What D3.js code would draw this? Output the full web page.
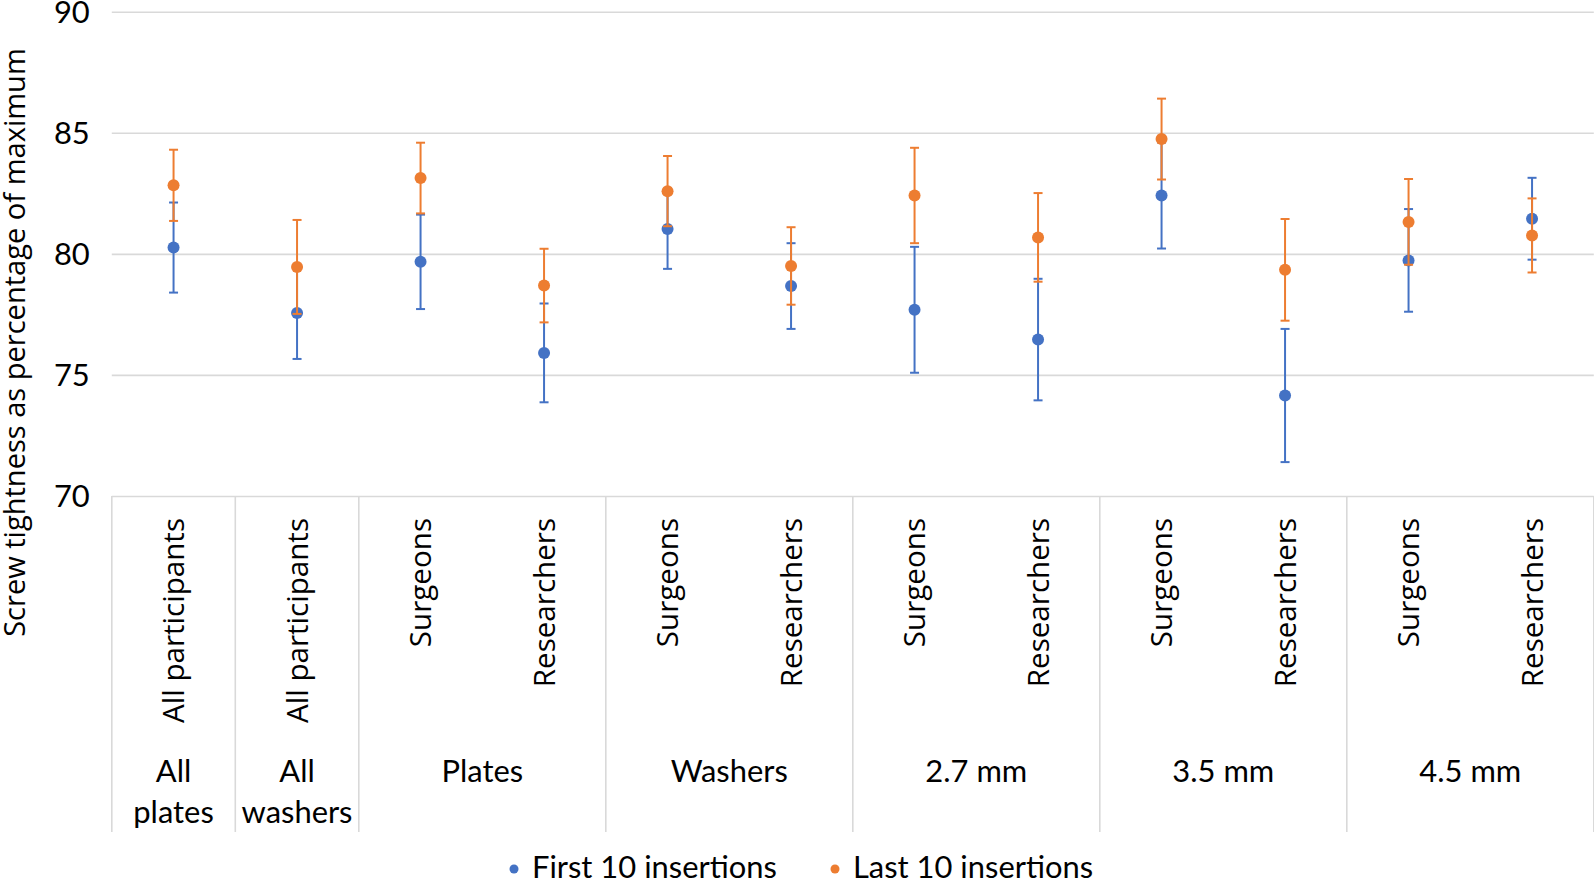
<!DOCTYPE html>
<html>
<head>
<meta charset="utf-8">
<script src="https://cdn.jsdelivr.net/npm/d3@7"></script>
<style>
  html, body { margin: 0; padding: 0; background: #fff; }
  svg { display: block; }
</style>
</head>
<body>
<svg id="chart" width="1594" height="882"></svg>
<script>
// ---------------- DATA ----------------
const categories = ["All participants", "All participants", "Surgeons", "Researchers", "Surgeons", "Researchers",
                    "Surgeons", "Researchers", "Surgeons", "Researchers", "Surgeons", "Researchers"];
const groups = [
  { lines: ["All", "plates"], start: 0, end: 1 },
  { lines: ["All", "washers"], start: 1, end: 2 },
  { lines: ["Plates"], start: 2, end: 4 },
  { lines: ["Washers"], start: 4, end: 6 },
  { lines: ["2.7 mm"], start: 6, end: 8 },
  { lines: ["3.5 mm"], start: 8, end: 10 },
  { lines: ["4.5 mm"], start: 10, end: 12 }
];
const seriesNames = ["First 10 insertions", "Last 10 insertions"];
const firstMean = [80.26, 77.56, 79.67, 75.91, 81.03, 78.67, 77.69, 76.46, 82.41, 74.15, 79.73, 81.45];
const firstErr  = [1.86, 1.90, 1.95, 2.04, 1.65, 1.77, 2.60, 2.51, 2.19, 2.75, 2.12, 1.69];
const lastMean  = [82.83, 79.46, 83.13, 78.69, 82.59, 79.50, 82.41, 80.68, 84.74, 79.34, 81.32, 80.76];
const lastErr   = [1.47, 1.94, 1.46, 1.52, 1.45, 1.60, 1.97, 1.83, 1.67, 2.10, 1.77, 1.53];
const yTicks = [70, 75, 80, 85, 90];
const yTitle = "Screw tightness as percentage of maximum";

(function () {
// ---------------- LAYOUT ----------------
const plotL = 111.8, plotR = 1593.8, plotT = 11.7, plotB = 496;
const colors = ["#4472C4", "#ED7D31"];
const gridColor = "#d9d9d9";
const calibri = "Lato, 'Noto Sans', sans-serif";
const segoe = "'Open Sans', 'Noto Sans', sans-serif";

const svg = d3.select("#chart");

const y = d3.scaleLinear().domain([70, 90]).range([plotB, plotT]);
const x = d3.scaleBand().domain(d3.range(categories.length)).range([plotL, plotR]).padding(0);

function fitSize(text, family, target) {
  const t = svg.append("text").attr("font-family", family).attr("font-size", 100).text(text);
  const w = t.node().getComputedTextLength();
  t.remove();
  return 100 * target / w;
}
const sizeCal = fitSize("First 10 insertions", calibri, 245);
const sizeRot = fitSize("All participants", segoe, 205);
const sizeTitle = fitSize(yTitle, segoe, 589);

const yAxis = d3.axisLeft(y).tickValues(yTicks).tickSize(-(plotR - plotL)).tickFormat(d3.format("d"));
const gAxis = svg.append("g").attr("transform", `translate(${plotL},0)`).call(yAxis);
gAxis.select(".domain").remove();
gAxis.selectAll(".tick line").attr("stroke", gridColor).attr("stroke-width", 1.6);
gAxis.selectAll(".tick text")
  .attr("x", -22)
  .attr("dy", "0.34em")
  .attr("font-family", calibri)
  .attr("font-size", sizeCal)
  .attr("fill", "#000");

const boundaries = [0, 1, 2, 4, 6, 8, 10, 12];
svg.append("g").selectAll("line")
  .data(boundaries)
  .join("line")
  .attr("x1", d => d < 12 ? x(d) : plotR)
  .attr("x2", d => d < 12 ? x(d) : plotR)
  .attr("y1", plotB)
  .attr("y2", 832)
  .attr("stroke", gridColor)
  .attr("stroke-width", 1.6);

svg.append("g").selectAll("text")
  .data(categories)
  .join("text")
  .attr("transform", (d, i) => `translate(${x(i) + x.bandwidth() / 2},518) rotate(-90)`)
  .attr("text-anchor", "end")
  .attr("dy", "0.36em")
  .attr("font-family", segoe)
  .attr("font-size", sizeRot)
  .attr("fill", "#000")
  .text(d => d);

const gGroups = svg.append("g");
groups.forEach(g => {
  const cx = (x(g.start) + (g.end < 12 ? x(g.end) : plotR)) / 2;
  const t = gGroups.append("text")
    .attr("x", cx).attr("y", 782)
    .attr("text-anchor", "middle")
    .attr("font-family", calibri)
    .attr("font-size", sizeCal)
    .attr("fill", "#000");
  g.lines.forEach((ln, k) => {
    t.append("tspan").attr("x", cx).attr("dy", k === 0 ? 0 : 41).text(ln);
  });
});

svg.append("text")
  .attr("transform", `translate(15,${(48 + 637) / 2}) rotate(-90)`)
  .attr("text-anchor", "middle")
  .attr("dy", "0.36em")
  .attr("font-family", segoe)
  .attr("font-size", sizeTitle)
  .attr("fill", "#000")
  .text(yTitle);

const series = [
  { name: seriesNames[0], mean: firstMean, err: firstErr, color: colors[0] },
  { name: seriesNames[1], mean: lastMean, err: lastErr, color: colors[1] }
];
const cap = 4.5;
series.forEach(s => {
  const g = svg.append("g");
  const idx = d3.range(s.mean.length);
  const cx = i => x(i) + x.bandwidth() / 2;
  g.selectAll("line.v").data(idx).join("line").attr("class", "v")
    .attr("x1", cx).attr("x2", cx)
    .attr("y1", i => y(s.mean[i] - s.err[i])).attr("y2", i => y(s.mean[i] + s.err[i]))
    .attr("stroke", s.color).attr("stroke-width", 2);
  g.selectAll("line.t").data(idx).join("line").attr("class", "t")
    .attr("x1", i => cx(i) - cap).attr("x2", i => cx(i) + cap)
    .attr("y1", i => y(s.mean[i] + s.err[i])).attr("y2", i => y(s.mean[i] + s.err[i]))
    .attr("stroke", s.color).attr("stroke-width", 2);
  g.selectAll("line.b").data(idx).join("line").attr("class", "b")
    .attr("x1", i => cx(i) - cap).attr("x2", i => cx(i) + cap)
    .attr("y1", i => y(s.mean[i] - s.err[i])).attr("y2", i => y(s.mean[i] - s.err[i]))
    .attr("stroke", s.color).attr("stroke-width", 2);
  g.selectAll("circle").data(idx).join("circle")
    .attr("cx", cx).attr("cy", i => y(s.mean[i]))
    .attr("r", 6)
    .attr("fill", s.color);
});

const legendItems = [
  { name: seriesNames[0], color: colors[0], dotX: 514, textX: 532 },
  { name: seriesNames[1], color: colors[1], dotX: 835, textX: 853 }
];
const gLeg = svg.append("g");
legendItems.forEach(it => {
  gLeg.append("circle").attr("cx", it.dotX).attr("cy", 869).attr("r", 4.5).attr("fill", it.color);
  gLeg.append("text").attr("x", it.textX).attr("y", 878)
    .attr("font-family", calibri).attr("font-size", sizeCal).attr("fill", "#000")
    .text(it.name);
});
})();
</script>
</body>
</html>
